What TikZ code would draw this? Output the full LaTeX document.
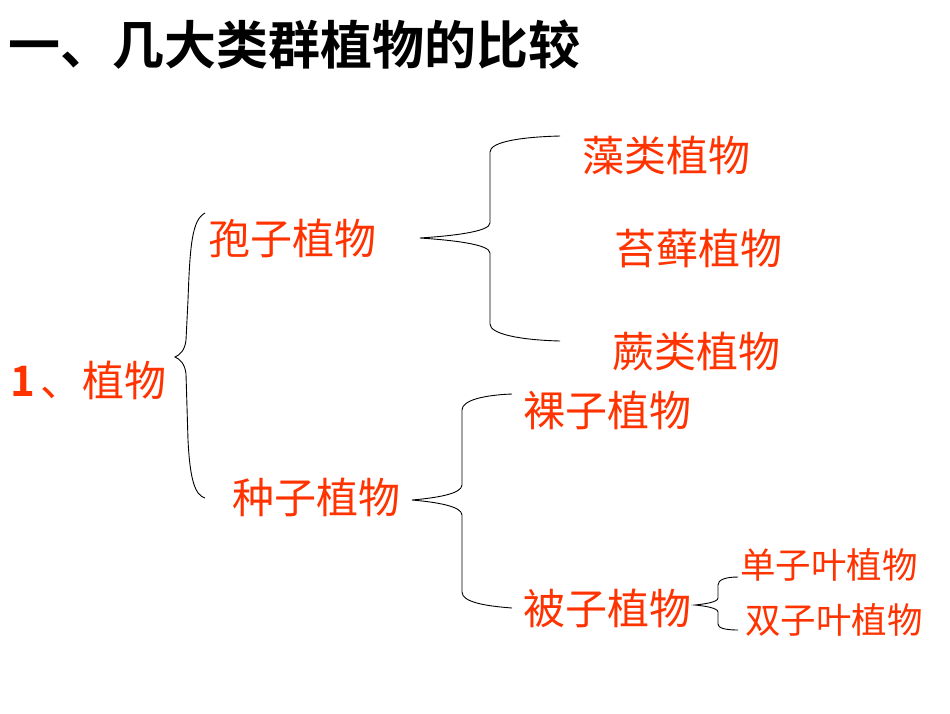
\documentclass[tikz,border=0pt]{standalone}
\usepackage{fontspec}
\setmainfont{Noto Sans CJK SC}[BoldFont={* Bold}]
\definecolor{lab}{HTML}{FF3300}
\begin{document}
\begin{tikzpicture}[x=1pt,y=-1pt,
  lbl/.style={anchor=west,inner sep=0,text=lab,font=\fontsize{42}{42}\selectfont},
  sml/.style={anchor=west,inner sep=0,text=lab,font=\fontsize{35.5}{35.5}\selectfont},
  br/.style={draw=black,line width=0.9pt}]
\useasboundingbox (0,0) rectangle (950,713);
\fill[white] (0,0) rectangle (950,713);
\node[anchor=west,inner sep=0,font=\fontsize{52}{52}\selectfont\bfseries] (title) at (8,45) {一、几大类群植物的比较};
\node[lbl] (root) at (10,380) {\textbf{1}\hspace{6pt}、植物};
\node[lbl] (bz) at (208,238) {孢子植物};
\node[lbl] (zz) at (232,497) {种子植物};
\node[lbl] (zl) at (582,155) {藻类植物};
\node[lbl] (tx) at (614,248) {苔藓植物};
\node[lbl] (jl) at (612,352) {蕨类植物};
\node[lbl] (lz) at (523,410) {裸子植物};
\node[lbl] (bei) at (523,608) {被子植物};
\node[sml] (dan) at (740,565) {单子叶植物};
\node[sml] (shuang) at (745,620) {双子叶植物};
% brace 1
\draw[br] (205,213) .. controls (192,220) and (190,245) .. (188,300) -- (186,340) .. controls (185,350) and (180,355) .. (175,357)
  .. controls (180,359) and (185,364) .. (186,374) -- (188,440) .. controls (190,480) and (195,495) .. (205,498);
% brace 2
\draw[br] (560,136) .. controls (520,137) and (490,142) .. (490,152) -- (490,223) .. controls (490,232) and (450,236) .. (420,238)
  .. controls (450,240) and (490,244) .. (490,253) -- (490,324) .. controls (490,334) and (520,340) .. (560,341);
% brace 3
\draw[br] (512,394) .. controls (485,395) and (462,400) .. (462,410) -- (462,485) .. controls (462,494) and (435,498) .. (412,500)
  .. controls (435,502) and (462,506) .. (462,515) -- (462,592) .. controls (462,602) and (485,606) .. (512,608);
% brace 4
\draw[br] (738,577) .. controls (725,577) and (718,580) .. (718,585) -- (718,598) .. controls (718,602) and (705,604) .. (695,605)
  .. controls (705,606) and (718,608) .. (718,612) -- (718,624) .. controls (718,628) and (725,630) .. (738,630);
\end{tikzpicture}
\end{document}
